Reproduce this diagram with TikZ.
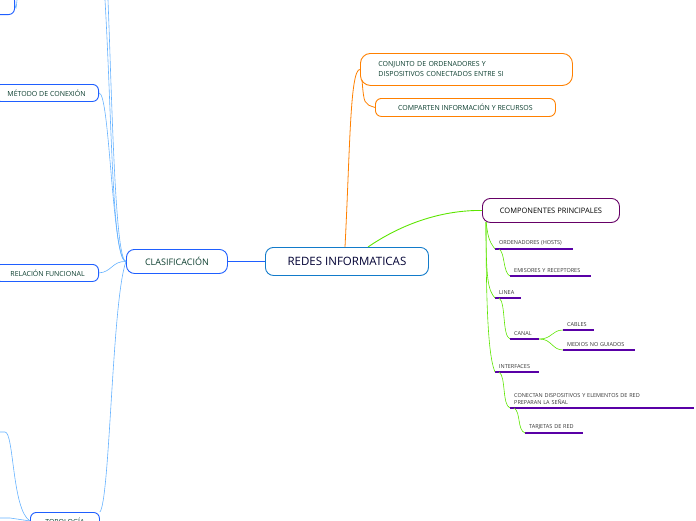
\documentclass[tikz,border=0pt]{standalone}
\usepackage{fontspec}
\setmainfont{Open Sans}
\usetikzlibrary{calc}
\begin{document}
\begin{tikzpicture}[x=1pt,y=-1pt,
 rbox/.style={draw, rounded corners=8pt, line width=0.9pt, inner sep=0pt, anchor=north west},
 ul/.style={anchor=south west, inner xsep=4pt, inner ysep=3pt, align=left, text width=#1-8pt, font=\fontsize{5.5}{7}\selectfont, text=black!80},
 ulline/.style={draw=violet!70!blue, line width=1.3pt},
 gc/.style={draw=green!60!yellow!90!black, line width=0.6pt},
 bc/.style={draw=blue!50!cyan!60, line width=0.6pt},
 oc/.style={draw=orange, line width=0.8pt}]
\useasboundingbox (0,0) rectangle (696,520);
\definecolor{dg}{HTML}{0B3D2E}
\definecolor{bl}{HTML}{1F5FFF}
% main
\node[rbox, draw=cyan!60!blue, minimum width=163pt, minimum height=28pt, font=\fontsize{11.5}{13}\selectfont, text=blue!20!black] (main) at (265,247) {REDES INFORMATICAS};
\node[rbox, draw=bl, minimum width=101pt, minimum height=24pt, font=\fontsize{9}{10}\selectfont, text=dg] (clas) at (126,249) {CLASIFICACIÓN};
\node[rbox, draw=bl, minimum width=104pt, minimum height=17pt, font=\fontsize{7}{8}\selectfont, text=dg, anchor=north east, rounded corners=6pt] (met) at (99,84) {MÉTODO DE CONEXIÓN\hspace{8pt}};
\node[rbox, draw=bl, minimum width=104pt, minimum height=17pt, font=\fontsize{7}{8}\selectfont, text=dg, anchor=north east, rounded corners=6pt] (rel) at (99,264) {\hspace{2pt}RELACIÓN FUNCIONAL\hspace{3pt}};
\node[rbox, draw=bl, minimum width=69pt, minimum height=17pt, font=\fontsize{7}{8}\selectfont, text=dg, rounded corners=6pt] (top) at (30,512) {TOPOLOGÍA};
\node[rbox, draw=bl, minimum width=40pt, minimum height=20pt, anchor=south east, rounded corners=6pt] (tl) at (15,15) {};
\coordinate (up1) at (105,0); \coordinate (up2) at (108,0);
\coordinate (tlu) at (17,0); \coordinate (tl2) at (0,432); \coordinate (tl3) at (0,518);
\draw[bc] (clas.west) .. controls (112,261) and (112,120) .. (up1);
\draw[bc] (clas.west) .. controls (115,261) and (112,100) .. (up2);
\draw[bc] (clas.west) .. controls (112,261) and (110,92) .. (met.east);
\draw[bc] (clas.west) .. controls (112,261) and (112,272) .. (rel.east);
\draw[bc] (clas.west) .. controls (112,300) and (110,500) .. (top.north east);
\draw[bc] (tl.east) .. controls (16,10) .. (tlu);
\draw[bc] (tl2) -- (5,432) .. controls (14,432) and (12,510) .. (top.west);
\draw[bc] (tl3) -- (10,518) -- (top.west);
\draw[draw=bl, line width=0.8pt] (clas.east) -- (main.west);
% orange
\node[rbox, draw=orange, minimum width=212pt, minimum height=32pt, rounded corners=10pt, font=\fontsize{7}{10}\selectfont, text=dg, align=left, text width=200pt] (conj) at (360,53) {\hspace{12pt}CONJUNTO DE ORDENADORES Y\\\hspace{12pt}DISPOSITIVOS CONECTADOS ENTRE SI};
\node[rbox, draw=orange, minimum width=180pt, minimum height=18pt, rounded corners=6pt, font=\fontsize{7}{8}\selectfont, text=dg] (comp) at (375,98) {COMPARTEN INFORMACIÓN Y RECURSOS};
\draw[oc] (345,247) .. controls (350,150) and (350,69) .. (conj.west);
\draw[oc] (362,80) .. controls (364,104) .. (comp.west);
% green
\node[rbox, draw=violet!80!black, minimum width=137pt, minimum height=24pt, font=\fontsize{7.5}{9}\selectfont, text=black] (cp) at (482,198) {COMPONENTES PRINCIPALES};
\draw[gc, line width=0.9pt] (368,247) .. controls (400,225) and (440,210) .. (cp.west);
\node[ul=78pt] (o) at (495,249) {ORDENADORES (HOSTS)};
\node[ul=81pt] (e) at (510,276) {EMISORES Y RECEPTORES};
\node[ul=26pt] (l) at (495,298) {LINEA};
\node[ul=29pt] (c) at (510,339) {CANAL};
\node[ul=31pt] (ca) at (563,330) {CABLES};
\node[ul=72pt] (m) at (563,350) {MEDIOS NO GUIADOS};
\node[ul=44pt] (i) at (495,372) {INTERFACES};
\node[ul=184pt] (cn) at (510,408) {CONECTAN DISPOSITIVOS Y ELEMENTOS DE RED\\PREPARAN LA SEÑAL};
\node[ul=58pt] (t) at (525,433) {TARJETAS DE RED};
\foreach \n in {o,e,l,c,ca,m,i,cn,t} \draw[ulline] (\n.south west) -- (\n.south east);
\coordinate (cb) at (486,222);
\draw[gc] (cb) .. controls (488,235) and (488,240) .. (o.south west);
\draw[gc] (cb) .. controls (486,280) and (488,290) .. (l.south west);
\draw[gc] (cb) .. controls (486,330) and (490,360) .. (i.south west);
\draw[gc] ($(o.south west)+(4,0)$) .. controls (505,252) and (503,273) .. (e.south west);
\draw[gc] ($(l.south west)+(4,0)$) .. controls (506,302) and (502,336) .. (c.south west);
\draw[gc] ($(i.south west)+(4,0)$) .. controls (506,376) and (502,405) .. (cn.south west);
\draw[gc] ($(cn.south west)+(4,0)$) .. controls (521,412) and (517,430) .. (t.south west);
\draw[gc] (c.south east) .. controls (552,339) and (552,330) .. (ca.south west);
\draw[gc] (c.south east) .. controls (552,339) and (552,350) .. (m.south west);
\end{tikzpicture}
\end{document}
